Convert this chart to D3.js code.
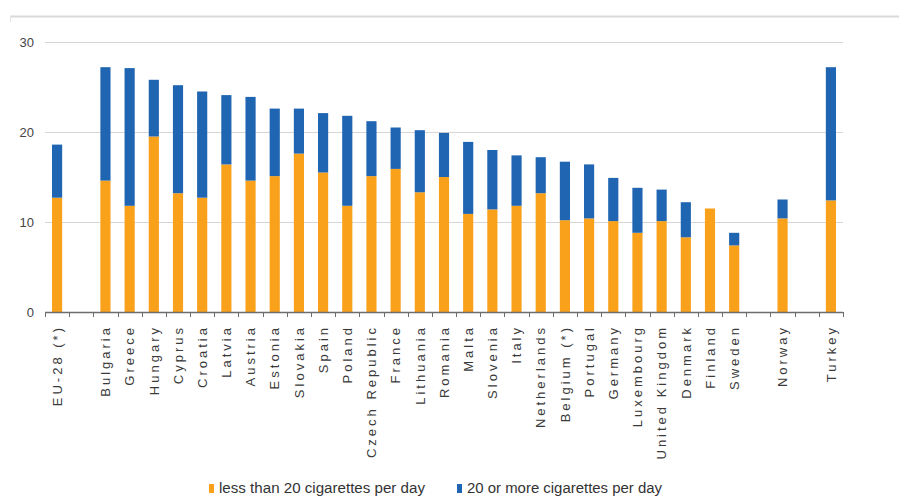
<!DOCTYPE html>
<html>
<head>
<meta charset="utf-8">
<script src="https://cdn.jsdelivr.net/npm/d3@7"></script>
<style>
  html, body { margin: 0; padding: 0; background: #fff; }
  svg { display: block; }
</style>
</head>
<body>
<svg id="chart" width="899" height="497"></svg>
<script>
// ---- data ----
const slots = ["EU-28 (*)", "_g1", "Bulgaria", "Greece", "Hungary", "Cyprus", "Croatia", "Latvia", "Austria",
  "Estonia", "Slovakia", "Spain", "Poland", "Czech Republic", "France", "Lithuania", "Romania", "Malta",
  "Slovenia", "Italy", "Netherlands", "Belgium (*)", "Portugal", "Germany", "Luxembourg", "United Kingdom",
  "Denmark", "Finland", "Sweden", "_g2", "Norway", "_g3", "Turkey"];
const categories = slots.filter(d => !d.startsWith("_"));
const lessThan20 = [12.7, 14.6, 11.8, 19.5, 13.2, 12.7, 16.4, 14.6, 15.1, 17.6, 15.5, 11.8, 15.1, 15.9, 13.3,
  15.0, 10.9, 11.4, 11.8, 13.2, 10.2, 10.4, 10.1, 8.8, 10.1, 8.3, 11.5, 7.4, 10.4, 12.4];
const twentyOrMore = [5.9, 12.6, 15.3, 6.3, 12.0, 11.8, 7.7, 9.3, 7.5, 5.0, 6.6, 10.0, 6.1, 4.6, 6.9,
  4.9, 8.0, 6.6, 5.6, 4.0, 6.5, 6.0, 4.8, 5.0, 3.5, 3.9, 0.0, 1.4, 2.1, 14.8];
const yTicks = [0, 10, 20, 30];
const seriesNames = ["less than 20 cigarettes per day", "20 or more cigarettes per day"];
const colors = ["#F9A11B", "#1F65B2"];

// ---- layout ----
const svg = d3.select("#chart");
const x = d3.scaleBand().domain(slots).range([45, 843]).paddingInner(0).paddingOuter(0);
const y = d3.scaleLinear().domain([0, 30]).range([312, 42]);

// decorative top rule
svg.append("line").attr("x1", 10).attr("x2", 899).attr("y1", 16.5).attr("y2", 16.5)
  .attr("stroke", "#d9d9d9").attr("stroke-width", 2);
svg.append("line").attr("x1", 10.5).attr("x2", 10.5).attr("y1", 16).attr("y2", 22)
  .attr("stroke", "#e4e4e4").attr("stroke-width", 1);

// gridlines
svg.append("g").selectAll("line").data(yTicks.filter(t => t > 0)).join("line")
  .attr("x1", 45).attr("x2", 843)
  .attr("y1", d => Math.round(y(d)) + 0.5).attr("y2", d => Math.round(y(d)) + 0.5)
  .attr("stroke", "#d6d6d6").attr("stroke-width", 1);

// y tick labels
svg.append("g").selectAll("text").data(yTicks).join("text")
  .attr("x", 34).attr("y", d => y(d)).attr("dy", "0.36em")
  .attr("text-anchor", "end")
  .attr("font-family", "Liberation Sans, Arial, sans-serif").attr("font-size", 13)
  .attr("fill", "#444")
  .text(d => d);

// stacked bars
const data = categories.map((c, i) => ({ c, a: lessThan20[i], b: twentyOrMore[i] }));
const bw = x.bandwidth() * 0.42;
const bars = svg.append("g");
bars.selectAll("rect.a").data(data).join("rect").attr("class", "a")
  .attr("x", d => x(d.c) + (x.bandwidth() - bw) / 2).attr("width", bw)
  .attr("y", d => y(d.a)).attr("height", d => y(0) - y(d.a))
  .attr("fill", colors[0]);
bars.selectAll("rect.b").data(data.filter(d => d.b > 0)).join("rect").attr("class", "b")
  .attr("x", d => x(d.c) + (x.bandwidth() - bw) / 2).attr("width", bw)
  .attr("y", d => y(d.a + d.b)).attr("height", d => y(d.a) - y(d.a + d.b))
  .attr("fill", colors[1]);

// x axis line & ticks at band boundaries
const xAxis = svg.append("g");
xAxis.append("line").attr("x1", 45).attr("x2", 843).attr("y1", 312.5).attr("y2", 312.5)
  .attr("stroke", "#6e6e6e").attr("stroke-width", 1.5);
const bounds = slots.map(s => x(s)).concat([x.range()[1]]);
xAxis.selectAll("line.t").data(bounds).join("line").attr("class", "t")
  .attr("x1", d => Math.round(d) + 0.5).attr("x2", d => Math.round(d) + 0.5)
  .attr("y1", 312).attr("y2", 317)
  .attr("stroke", "#6e6e6e").attr("stroke-width", 1);

// x labels
svg.append("g").selectAll("text").data(categories).join("text")
  .attr("transform", d => `translate(${x(d) + x.bandwidth() / 2},${325}) rotate(-90)`)
  .attr("dy", "0.36em")
  .attr("text-anchor", "end")
  .attr("font-family", "Liberation Sans, Arial, sans-serif").attr("font-size", 13)
  .attr("letter-spacing", 3)
  .attr("fill", "#3a3a3a")
  .text(d => d);

// legend
const legend = svg.append("g");
const legendItems = [
  { name: seriesNames[0], color: colors[0], x: 209, w: 206 },
  { name: seriesNames[1], color: colors[1], x: 457, w: 195 }
];
legendItems.forEach(it => {
  legend.append("rect").attr("x", it.x).attr("y", 484).attr("width", 5).attr("height", 9).attr("fill", it.color);
  legend.append("text").attr("x", it.x + 10).attr("y", 493)
    .attr("font-family", "Liberation Sans, Arial, sans-serif").attr("font-size", 14)
    .attr("fill", "#333")
    .attr("textLength", it.w).attr("lengthAdjust", "spacingAndGlyphs")
    .text(it.name);
});
</script>
</body>
</html>
